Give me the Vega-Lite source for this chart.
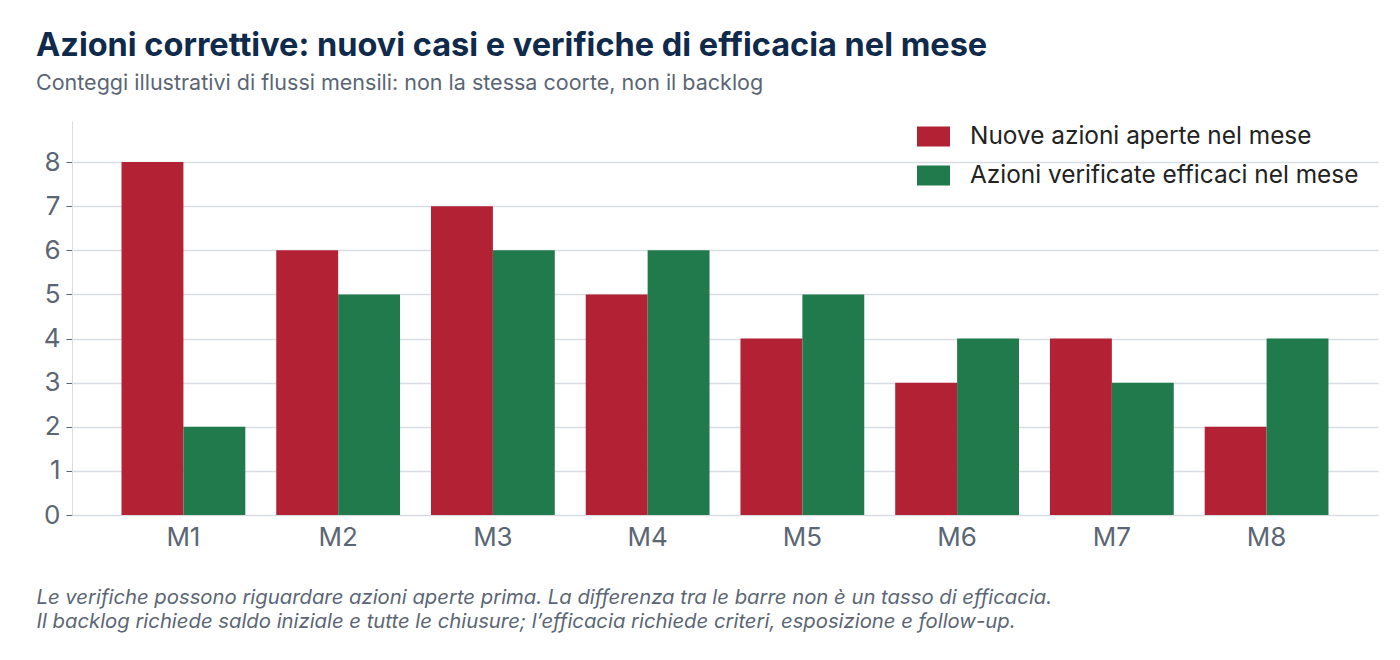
{
  "$schema": "https://vega.github.io/schema/vega-lite/v6.json",
  "autosize": {"type": "none"},
  "width": 1306,
  "height": 394,
  "padding": {"left": 72, "top": 121, "right": 22, "bottom": 145},
  "background": "white",
  "title": {
    "text": "Azioni correttive: nuovi casi e verifiche di efficacia nel mese",
    "subtitle": "Conteggi illustrativi di flussi mensili: non la stessa coorte, non il backlog",
    "anchor": "start",
    "frame": "group",
    "dx": -36,
    "offset": 26,
    "font": "Inter",
    "fontSize": 32.5,
    "fontWeight": "bold",
    "color": "#0f2a4a",
    "subtitleFont": "Inter",
    "subtitleFontSize": 21.5,
    "subtitleColor": "#5b6675",
    "subtitlePadding": 10
  },
  "data": {
    "values": [
      {"mese": "M1", "serie": "Nuove azioni aperte nel mese", "n": 8},
      {"mese": "M1", "serie": "Azioni verificate efficaci nel mese", "n": 2},
      {"mese": "M2", "serie": "Nuove azioni aperte nel mese", "n": 6},
      {"mese": "M2", "serie": "Azioni verificate efficaci nel mese", "n": 5},
      {"mese": "M3", "serie": "Nuove azioni aperte nel mese", "n": 7},
      {"mese": "M3", "serie": "Azioni verificate efficaci nel mese", "n": 6},
      {"mese": "M4", "serie": "Nuove azioni aperte nel mese", "n": 5},
      {"mese": "M4", "serie": "Azioni verificate efficaci nel mese", "n": 6},
      {"mese": "M5", "serie": "Nuove azioni aperte nel mese", "n": 4},
      {"mese": "M5", "serie": "Azioni verificate efficaci nel mese", "n": 5},
      {"mese": "M6", "serie": "Nuove azioni aperte nel mese", "n": 3},
      {"mese": "M6", "serie": "Azioni verificate efficaci nel mese", "n": 4},
      {"mese": "M7", "serie": "Nuove azioni aperte nel mese", "n": 4},
      {"mese": "M7", "serie": "Azioni verificate efficaci nel mese", "n": 3},
      {"mese": "M8", "serie": "Nuove azioni aperte nel mese", "n": 2},
      {"mese": "M8", "serie": "Azioni verificate efficaci nel mese", "n": 4}
    ]
  },
  "mark": {"type": "bar"},
  "encoding": {
    "x": {
      "field": "mese",
      "type": "nominal",
      "sort": null,
      "scale": {"paddingInner": 0.2, "paddingOuter": 0.32},
      "axis": {
        "title": [
          "Le verifiche possono riguardare azioni aperte prima. La differenza tra le barre non è un tasso di efficacia.",
          "Il backlog richiede saldo iniziale e tutte le chiusure; l’efficacia richiede criteri, esposizione e follow-up."
        ],
        "titleFont": "Inter",
        "titleFontSize": 20.3,
        "titleFontStyle": "italic",
        "titleFontWeight": "normal",
        "titleColor": "#5b6675",
        "titleAlign": "left",
        "titleAnchor": "start",
        "titleBaseline": "top",
        "titleX": -36,
        "titleY": 72,
        "titleLineHeight": 24,
        "labelAngle": 0,
        "labelFont": "Inter",
        "labelFontSize": 26,
        "labelColor": "#5b6675",
        "labelPadding": 9,
        "ticks": false,
        "domainColor": "#d9dde3",
        "grid": false
      }
    },
    "xOffset": {
      "field": "serie",
      "type": "nominal",
      "sort": ["Nuove azioni aperte nel mese", "Azioni verificate efficaci nel mese"],
      "scale": {"paddingInner": 0, "paddingOuter": 0}
    },
    "y": {
      "field": "n",
      "type": "quantitative",
      "scale": {"domain": [0, 8.93], "nice": false},
      "axis": {
        "title": null,
        "values": [0, 1, 2, 3, 4, 5, 6, 7, 8],
        "labelFont": "Inter",
        "labelFontSize": 26,
        "labelColor": "#5b6675",
        "labelPadding": 6,
        "tickSize": 6,
        "tickColor": "#5b6675",
        "domainColor": "#d9dde3",
        "gridColor": "#d9dde3",
        "gridWidth": 1.5
      }
    },
    "color": {
      "field": "serie",
      "type": "nominal",
      "scale": {
        "domain": ["Nuove azioni aperte nel mese", "Azioni verificate efficaci nel mese"],
        "range": ["#b22234", "#207a4c"]
      },
      "legend": {
        "title": null,
        "orient": "none",
        "legendX": 845,
        "legendY": -1,
        "symbolType": "M-1,-0.6H1V0.6H-1Z",
        "symbolSize": 1089,
        "symbolStrokeWidth": 0,
        "symbolOpacity": 1,
        "labelFont": "Inter",
        "labelFontSize": 24.4,
        "labelLimit": 600,
        "labelColor": "#222222",
        "labelOffset": 20,
        "rowPadding": 11,
        "padding": 0
      }
    }
  },
  "config": {
    "view": {"stroke": null}
  }
}
